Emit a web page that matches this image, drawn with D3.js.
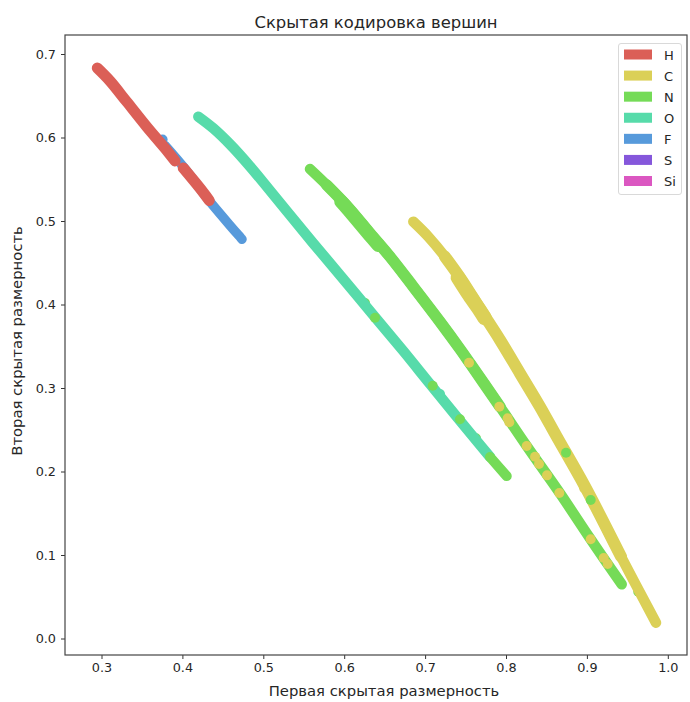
<!DOCTYPE html>
<html>
<head>
<meta charset="utf-8">
<script src="https://d3js.org/d3.v7.min.js"></script>
<style>
    body { margin: 0; background: #fff; }
    text { font-family: "DejaVu Sans", sans-serif; fill: #262626; }
    .domain { display: none; }
    .tick line { stroke: #333; stroke-width: 1; }
    .tick text { font-size: 12.8px; }
</style>
</head>
<body>
<svg id="chart" width="690" height="702"></svg>
<script>
// Atom types and their legend colours
const atoms = ['H', 'C', 'N', 'O', 'F', 'S', 'Si'];
const atomColors = ['#db5f57', '#dbd057', '#75db57', '#57dbaa', '#579adb', '#8557db', '#db57c1'];

const xTicks = [0.3, 0.4, 0.5, 0.6, 0.7, 0.8, 0.9, 1.0];
const yTicks = [0.0, 0.1, 0.2, 0.3, 0.4, 0.5, 0.6, 0.7];

// Latent points, [first dim, second dim]
const fluorinePoints = [[0.3785, 0.5905], [0.4032, 0.5625], [0.4329, 0.5245], [0.4737, 0.4781]];
const fluorineStray = [[0.3755, 0.5975]];
const hydrogenUpper = [[0.2948, 0.6832], [0.3105, 0.6677], [0.3311, 0.6429], [0.3559, 0.6129], [0.3785, 0.5871], [0.3909, 0.5719]];
const hydrogenLower = [[0.4010, 0.5636], [0.4218, 0.5392], [0.4332, 0.5246]];

const oxygenPoints = [[0.4197, 0.6249], [0.4382, 0.611], [0.4609, 0.5898], [0.4836, 0.5653], [0.5062, 0.5389],
    [0.533, 0.5072], [0.5618, 0.4733], [0.5948, 0.4353], [0.636, 0.3874], [0.6731, 0.3443], [0.7061, 0.3048],
    [0.7391, 0.2656], [0.7802, 0.2174]];
const oxygenTail = [[0.7802, 0.2174], [0.8009, 0.1945]];
const oxygenStrayNitrogen = [[0.6257, 0.4019], [0.7629, 0.2398]];
const oxygenTopNitrogen = [[0.6381, 0.3842], [0.7094, 0.3028], [0.7431, 0.2625]];
const oxygenTopOxygen = [[0.7184, 0.2928]];

const nitrogenPoints = [[0.5577, 0.5623], [0.5784, 0.5431], [0.6051, 0.5162], [0.6319, 0.4853], [0.6566, 0.4572],
    [0.6854, 0.4213], [0.7184, 0.3794], [0.7431, 0.3467], [0.7555, 0.3296], [0.7926, 0.2776], [0.8256, 0.2305],
    [0.8667, 0.1739], [0.9038, 0.12], [0.943, 0.0649]];
const nitrogenMid = [[0.5784, 0.5431], [0.6051, 0.5162], [0.6319, 0.4853], [0.6566, 0.4572], [0.6854, 0.4213],
    [0.7184, 0.3794], [0.7431, 0.3467], [0.7555, 0.3296], [0.7926, 0.2776]];
const nitrogenWide = [[0.596, 0.5235], [0.6051, 0.5135], [0.6319, 0.4825], [0.642, 0.471]];
const nitrogenStrayCarbon = [[0.7543, 0.3303], [0.7917, 0.2776], [0.8021, 0.2637], [0.8041, 0.2589], [0.8256, 0.2305],
    [0.8359, 0.2177], [0.8408, 0.209], [0.8507, 0.1954], [0.8659, 0.1743], [0.9047, 0.1188], [0.9208, 0.0964], [0.9257, 0.0892]];

const carbonPoints = [[0.6854, 0.4992], [0.704, 0.4812], [0.7246, 0.4572], [0.7452, 0.4293], [0.7679, 0.3946],
    [0.7926, 0.3575], [0.8173, 0.3176], [0.842, 0.2776], [0.8627, 0.2417], [0.8977, 0.1818], [0.9422, 0.098], [0.9854, 0.0189]];
const carbonMid = [[0.7246, 0.4572], [0.7452, 0.4293], [0.7679, 0.3946], [0.7926, 0.3575], [0.8173, 0.3176],
    [0.842, 0.2776], [0.8627, 0.2417], [0.8977, 0.1818], [0.9422, 0.098]];
const carbonWide = [[0.7405, 0.4325], [0.7547, 0.411], [0.7679, 0.3925], [0.7735, 0.384]];
const carbonStrayNitrogen = [[0.9635, 0.056]];
const carbonTopNitrogen = [[0.8742, 0.2225], [0.9047, 0.1659]];
const carbonTopCarbon = [[0.8967, 0.1799]];

const svg = d3.select('#chart');
const MARGIN = { left: 65, right: 687, top: 35, bottom: 655 };

const scaleX = d3.scaleLinear().domain([0.3, 1.0]).range([101.5, 667.8]);
const scaleY = d3.scaleLinear().domain([0.0, 0.7]).range([638.5, 54]);
const color = d3.scaleOrdinal().domain(atoms).range(atomColors);

const MARKER = 10;
const bandLine = d3.line().x(d => scaleX(d[0])).y(d => scaleY(d[1])).curve(d3.curveCatmullRom);

const plot = svg.append('g');

// Overlapping dots are just tracks of the scatter, drawn thick with round ends
function drawBand(points, atom, width = MARKER) {
    plot.append('path')
        .attr('d', bandLine(points))
        .attr('fill', 'none')
        .attr('stroke', color(atom))
        .attr('stroke-width', width)
        .attr('stroke-linecap', 'round')
        .attr('stroke-linejoin', 'round');
}

function drawDots(points, atom) {
    plot.selectAll(null)
        .data(points)
        .join('circle')
        .attr('cx', d => scaleX(d[0]))
        .attr('cy', d => scaleY(d[1]))
        .attr('r', MARKER / 2)
        .attr('fill', color(atom));
}

drawDots(fluorineStray, 'F');
drawBand(fluorinePoints, 'F', 9.5);
drawBand(hydrogenUpper, 'H', 11);
drawBand(hydrogenLower, 'H', 11);

drawDots(oxygenStrayNitrogen, 'N');
drawBand(oxygenPoints, 'O', 10.5);
drawDots(oxygenTopNitrogen, 'N');
drawDots(oxygenTopOxygen, 'O');
drawBand(oxygenTail, 'N', 10);

drawBand(nitrogenPoints, 'N', 10.5);
drawBand(nitrogenMid, 'N', 11.5);
drawBand(nitrogenWide, 'N', 13.5);
drawDots(nitrogenStrayCarbon, 'C');

drawDots(carbonStrayNitrogen, 'N');
drawBand(carbonPoints, 'C', 10.5);
drawBand(carbonMid, 'C', 12);
drawBand(carbonWide, 'C', 14.5);
drawDots(carbonTopNitrogen, 'N');
drawDots(carbonTopCarbon, 'C');

// AXES
svg.append('g')
    .attr('transform', `translate(0,${MARGIN.bottom})`)
    .call(d3.axisBottom(scaleX).tickValues(xTicks).tickFormat(d3.format('.1f')).tickSize(4).tickPadding(4));
svg.append('g')
    .attr('transform', `translate(${MARGIN.left},0)`)
    .call(d3.axisLeft(scaleY).tickValues(yTicks).tickFormat(d3.format('.1f')).tickSize(4).tickPadding(5));

svg.append('rect')
    .attr('x', MARGIN.left)
    .attr('y', MARGIN.top)
    .attr('width', MARGIN.right - MARGIN.left)
    .attr('height', MARGIN.bottom - MARGIN.top)
    .attr('fill', 'none')
    .attr('stroke', '#444')
    .attr('stroke-width', 1.2);

// TITLES
svg.append('text')
    .attr('x', 376).attr('y', 28)
    .attr('text-anchor', 'middle')
    .style('font-size', '16.4px')
    .text('Скрытая кодировка вершин');
svg.append('text')
    .attr('x', 384).attr('y', 696)
    .attr('text-anchor', 'middle')
    .style('font-size', '14.8px')
    .text('Первая скрытая размерность');
svg.append('text')
    .attr('transform', 'translate(22,341) rotate(-90)')
    .attr('text-anchor', 'middle')
    .style('font-size', '14.8px')
    .text('Вторая скрытая размерность');

// LEGEND
const legend = svg.append('g');
legend.append('rect')
    .attr('x', 618.5).attr('y', 43.5)
    .attr('width', 63).attr('height', 151)
    .attr('rx', 2.5)
    .attr('fill', '#fff')
    .attr('stroke', '#d9d9d9');

const legendY = d3.scalePoint().domain(atoms).range([54.5, 181]);
const rows = legend.selectAll('.row')
    .data(atoms)
    .join('g')
    .attr('class', 'row')
    .attr('transform', d => `translate(0,${legendY(d)})`);
rows.append('rect')
    .attr('x', 624).attr('y', -5)
    .attr('width', 28).attr('height', 10)
    .attr('fill', d => color(d));
rows.append('text')
    .attr('x', 664).attr('y', 5)
    .style('font-size', '13px')
    .text(d => d);
</script>
</body>
</html>
